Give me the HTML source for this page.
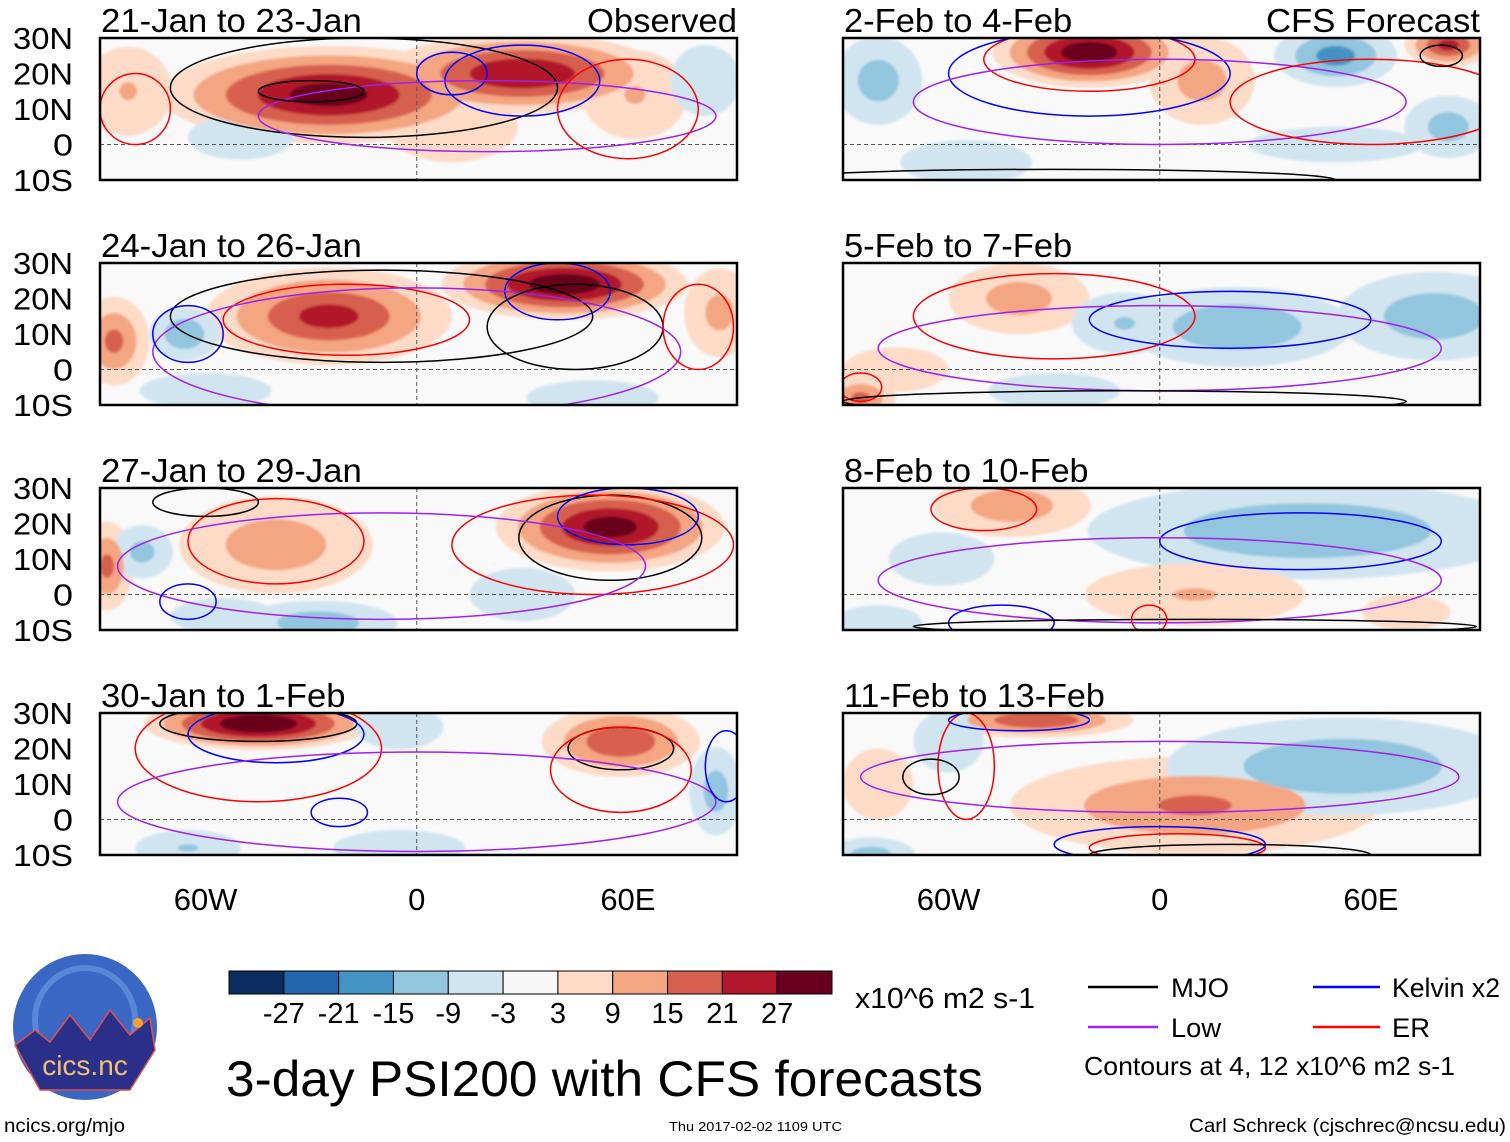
<!DOCTYPE html>
<html><head><meta charset="utf-8"><style>
html,body{margin:0;padding:0;background:#fff}
svg{display:block;font-family:"Liberation Sans",Arial,sans-serif}
</style></head><body>
<svg id="root" width="1510" height="1142" viewBox="0 0 1510 1142">
<defs>
<filter id="soft" x="-20%" y="-20%" width="140%" height="140%"><feGaussianBlur stdDeviation="1.2"/></filter>
<clipPath id="cl0"><rect x="100" y="38" width="637" height="142"/></clipPath>
<clipPath id="cl1"><rect x="100" y="263" width="637" height="142"/></clipPath>
<clipPath id="cl2"><rect x="100" y="488" width="637" height="142"/></clipPath>
<clipPath id="cl3"><rect x="100" y="713" width="637" height="142"/></clipPath>
<clipPath id="cl4"><rect x="843" y="38" width="637" height="142"/></clipPath>
<clipPath id="cl5"><rect x="843" y="263" width="637" height="142"/></clipPath>
<clipPath id="cl6"><rect x="843" y="488" width="637" height="142"/></clipPath>
<clipPath id="cl7"><rect x="843" y="713" width="637" height="142"/></clipPath>
</defs>
<g id="panels"></g>
<g id="axes"></g>
<g id="colorbar"></g>
<text x="855" y="1008" font-size="29" textLength="180" lengthAdjust="spacingAndGlyphs">x10^6 m2 s-1</text>
<g>
<line x1="1088" y1="987" x2="1158" y2="987" stroke="#000" stroke-width="2.5"/>
<text x="1171" y="997" font-size="27" textLength="58" lengthAdjust="spacingAndGlyphs">MJO</text>
<line x1="1313" y1="987" x2="1380" y2="987" stroke="#0000ff" stroke-width="2.5"/>
<text x="1392" y="997" font-size="27" textLength="108" lengthAdjust="spacingAndGlyphs">Kelvin x2</text>
<line x1="1088" y1="1027" x2="1158" y2="1027" stroke="#a020f0" stroke-width="2.5"/>
<text x="1171" y="1037" font-size="27" textLength="50" lengthAdjust="spacingAndGlyphs">Low</text>
<line x1="1313" y1="1027" x2="1380" y2="1027" stroke="#ff0000" stroke-width="2.5"/>
<text x="1392" y="1037" font-size="27" textLength="38" lengthAdjust="spacingAndGlyphs">ER</text>
<text x="1084" y="1075" font-size="26" textLength="371" lengthAdjust="spacingAndGlyphs">Contours at 4, 12 x10^6 m2 s-1</text>
</g>
<text x="226" y="1096" font-size="50" textLength="757" lengthAdjust="spacingAndGlyphs">3-day PSI200 with CFS forecasts</text>
<g>
<ellipse cx="85" cy="1027" rx="72" ry="73" fill="#3a66c4"/>
<ellipse cx="85" cy="1020" rx="50" ry="52" fill="none" stroke="#5a86d8" stroke-width="6"/>
<path d="M15 1045 L35 1030 L50 1042 L70 1015 L90 1040 L110 1010 L130 1035 L150 1018 L155 1050 L130 1090 L40 1090 Z" fill="#2a2f8a" stroke="#e05050" stroke-width="1.5"/>
<circle cx="138" cy="1023" r="5" fill="#f7a030"/>
<text x="85" y="1075" font-size="28" fill="#f4c070" text-anchor="middle">cics.nc</text>
</g>
<text x="4" y="1132" font-size="19" textLength="121" lengthAdjust="spacingAndGlyphs">ncics.org/mjo</text>
<text x="669" y="1131" font-size="13" textLength="173" lengthAdjust="spacingAndGlyphs">Thu 2017-02-02 1109 UTC</text>
<text x="1189" y="1132" font-size="19" textLength="317" lengthAdjust="spacingAndGlyphs">Carl Schreck (cjschrec@ncsu.edu)</text>
</svg>
<script>
const NS='http://www.w3.org/2000/svg';
// colorbar data
const cbLabels=[-27,-21,-15,-9,-3,3,9,15,21,27];
const cbColors=['#0b2c5e','#2166ac','#4393c3','#92c5de','#d1e5f0','#f7f7f7','#fddbc7','#f4a582','#d6604d','#b2182b','#67001f'];
const levels=[3,9,15,21,27];
const panelTitles=['21-Jan to 23-Jan','24-Jan to 26-Jan','27-Jan to 29-Jan','30-Jan to 1-Feb','2-Feb to 4-Feb','5-Feb to 7-Feb','8-Feb to 10-Feb','11-Feb to 13-Feb'];
const latTicks=[30,20,10,0,-10];
const lonTicks=[-60,0,60];
// anomaly blobs per panel: [lon, lat, amplitude, rxDeg, ryDeg]
const blobs0=[[-25,14,28,38,11],[30,20,26,32,9],[-82,15,9,10,10],[62,14,9,12,10],[-50,2,-5,12,5],[82,18,-6,8,8],[10,5,6,15,8]];
const blobs1=[[-25,15,22,28,11],[42,24,30,28,8],[-86,8,16,8,10],[-66,10,-14,8,6],[86,16,11,8,10],[50,-8,-7,15,4],[-60,-6,-5,15,4]];
const blobs2=[[-40,14,13,22,11],[55,19,28,26,10],[-88,8,16,6,10],[-78,12,-11,7,6],[-28,-8,-13,18,5],[30,0,-5,12,6],[-55,-6,-5,12,4]];
const blobs3=[[-45,27,32,26,6],[58,22,20,18,8],[-5,26,-7,10,5],[85,8,-12,6,10],[-65,-8,-9,12,4],[-5,-8,-5,15,4]];
const blobs4=[[-20,26,30,22,8],[12,18,12,12,10],[82,28,22,10,5],[50,25,-17,14,7],[82,5,-12,10,7],[-80,18,-12,10,10],[-55,-5,-6,15,5],[50,0,-6,20,4]];
const blobs5=[[-40,20,12,16,8],[-10,13,-9,12,7],[22,12,-14,26,9],[78,15,-13,22,10],[-85,-8,16,8,5],[-75,0,7,12,5],[-30,-6,-5,15,4]];
const blobs6=[[-42,25,13,18,7],[42,18,-14,50,11],[10,0,9,25,7],[-62,10,-7,12,6],[70,-5,6,10,4],[-80,-8,-6,10,4]];
const blobs7=[[-35,28,20,22,4],[10,4,15,42,11],[52,15,-14,40,11],[-82,-10,-12,10,4],[-60,22,-7,8,7],[-80,10,6,8,8]];
const allBlobs=[blobs0,blobs1,blobs2,blobs3,blobs4,blobs5,blobs6,blobs7];
// contour ellipses per panel: [type, lon, lat, rxDeg, ryDeg]
const cont0=[['mjo',-15,16,55,14],['kelvin',30,18,22,10],['kelvin',10,20,10,6],['low',20,8,65,10],['er',60,10,20,14],['er',-80,10,10,10],['mjo',-30,15,15,3]];
const cont1=[['mjo',-10,15,60,13],['er',-20,14,35,10],['kelvin',40,22,15,8],['low',0,5,75,18],['kelvin',-65,10,10,8],['mjo',45,12,25,12],['er',80,12,10,12]];
const cont2=[['mjo',55,16,26,12],['er',50,14,40,14],['kelvin',60,22,20,8],['low',-10,8,75,15],['er',-40,15,25,12],['kelvin',-65,-2,8,5],['mjo',-60,26,15,4]];
const cont3=[['mjo',-45,27,28,5],['er',-45,20,35,15],['kelvin',-40,24,25,8],['mjo',58,20,15,6],['er',58,14,20,12],['low',0,5,85,14],['kelvin',-22,2,8,4],['kelvin',88,15,6,10]];
const cont4=[['er',-20,24,30,9],['kelvin',-20,20,40,12],['low',0,12,70,12],['er',60,12,40,12],['mjo',80,25,6,3],['mjo',-30,-10,80,3]];
const cont5=[['er',-30,15,40,12],['kelvin',20,14,40,8],['low',0,6,80,12],['er',-85,-5,6,4],['mjo',-10,-9,80,3]];
const cont6=[['er',-50,24,15,6],['kelvin',40,15,40,8],['low',0,4,80,12],['kelvin',-45,-8,15,5],['mjo',10,-9,80,2],['er',-3,-7,5,4]];
const cont7=[['er',-55,15,8,15],['kelvin',-40,28,20,3],['low',0,12,85,10],['mjo',-65,12,8,5],['er',5,-8,25,4],['kelvin',0,-7,30,5],['mjo',20,-10,40,3]];
const allConts=[cont0,cont1,cont2,cont3,cont4,cont5,cont6,cont7];
const contColor={mjo:'#000',kelvin:'#0000ff',low:'#a020f0',er:'#ff0000'};

const P0x=[100,843], P0y=[38,263,488,713], PW=637, PH=142;
function lonX(p,lon){return P0x[p>>2]+(lon+90)*PW/181;}
function latY(p,lat){return P0y[p%4]+(30-lat)*PH/40;}
function colorFor(level,sign){const i=levels.indexOf(level);return sign>0?cbColors[6+i]:cbColors[4-i];}

const panelsG=document.getElementById('panels');
const axesG=document.getElementById('axes');
function mk(tag,attrs,parent){const e=document.createElementNS(NS,tag);for(const k in attrs)e.setAttribute(k,attrs[k]);parent.appendChild(e);return e;}

for(let p=0;p<8;p++){
  const x0=P0x[p>>2], y0=P0y[p%4];
  const g=mk('g',{'clip-path':'url(#cl'+p+')'},panelsG);
  
  
  mk('rect',{x:x0,y:y0,width:PW,height:PH,fill:'#f9f9f9'},g);
  const fg=mk('g',{filter:'url(#soft)'},g);
  for(const L of levels){
    for(const b of allBlobs[p]){
      const A=Math.abs(b[2]); if(A<L) continue;
      const s=1.25*(1-(L-3)/Math.max(A-3,1)*0.8);
      const e=mk('ellipse',{cx:lonX(p,b[0]),cy:latY(p,b[1]),rx:b[3]*s*PW/181,ry:b[4]*s*PH/40,fill:colorFor(L,Math.sign(b[2]))},fg);
      
      
    }
  }
  mk('line',{x1:x0,x2:x0+PW,y1:latY(p,0),y2:latY(p,0),stroke:'#555','stroke-dasharray':'4,3','stroke-width':1},g);
  mk('line',{x1:lonX(p,0),x2:lonX(p,0),y1:y0,y2:y0+PH,stroke:'#555','stroke-dasharray':'4,3','stroke-width':1},g);
  for(const c of allConts[p]){
    const e=mk('ellipse',{cx:lonX(p,c[1]),cy:latY(p,c[2]),rx:c[3]*PW/181,ry:c[4]*PH/40,fill:'none',stroke:contColor[c[0]],'stroke-width':1.5},g);
    
    
  }
  const fr=mk('rect',{x:x0,y:y0,width:PW,height:PH,fill:'none',stroke:'#000','stroke-width':2.5},axesG);
  
  
  const t=mk('text',{x:x0+1,y:y0-6,'font-size':33,textLength:panelTitles[p].length*16.3,lengthAdjust:'spacingAndGlyphs'},axesG);
  t.textContent=panelTitles[p];
  
  
  if(p%4===0){
    const lab=p===0?'Observed':'CFS Forecast';
    const r=mk('text',{x:x0+PW,y:y0-6,'font-size':33,'text-anchor':'end',textLength:p===0?150:214,lengthAdjust:'spacingAndGlyphs'},axesG);
    r.textContent=lab;
    
    
  }
  if(p<4){
    for(const lt of latTicks){
      const s=lt>0?lt+'N':lt<0?(-lt)+'S':'0';
      const tx=mk('text',{x:73,y:latY(p,lt)+11,'font-size':31,'text-anchor':'end',textLength:s.length*20,lengthAdjust:'spacingAndGlyphs'},axesG);
      tx.textContent=s;
      
      
    }
  }
  if(p%4===3){
    for(const ln of lonTicks){
      const s=ln<0?(-ln)+'W':ln>0?ln+'E':'0';
      const tx=mk('text',{x:lonX(p,ln),y:910,'font-size':31,'text-anchor':'middle'},axesG);
      tx.textContent=s;
      
      
    }
  }
}
const cb=document.getElementById('colorbar');
const cbx=229,cby=971,cbw=603/11,cbh=23;
cbColors.forEach((c,i)=>{
  const r=mk('rect',{x:cbx+i*cbw,y:cby,width:cbw,height:cbh,fill:c,stroke:'#000','stroke-width':1},cb);
  
  
});
cbLabels.forEach((v,i)=>{
  const t=mk('text',{x:cbx+(i+1)*cbw,y:1023,'font-size':29,'text-anchor':'middle'},cb);
  t.textContent=String(v);
  
  
});
</script>
</body></html>
